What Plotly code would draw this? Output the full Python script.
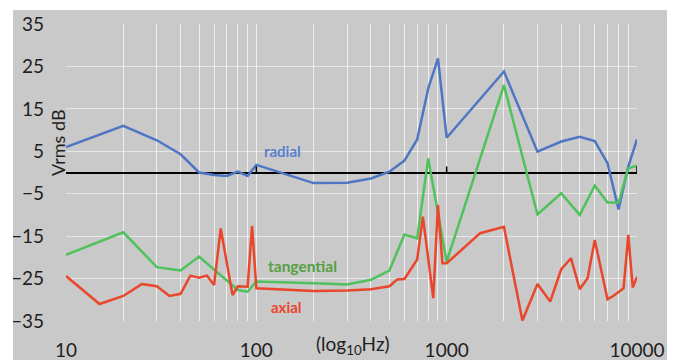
import plotly.graph_objects as go

# ---- data ----
radial_f = [10, 20, 30, 40, 50, 60, 70, 80, 90, 100, 200, 300, 400, 500, 600, 700,
            800, 900, 1000, 2000, 3000, 4000, 5000, 6000, 7000, 8000, 9000, 10000]
radial_db = [6.0, 11.0, 7.6, 4.3, 0.0, -0.6, -0.8, 0.2, -0.8, 1.8, -2.5, -2.4, -1.4, 0.2,
             2.8, 7.8, 19.8, 26.9, 8.2, 23.8, 4.9, 7.3, 8.4, 7.4, 2.2, -8.7, 1.4, 7.8]

tang_f = [10, 20, 30, 40, 50, 60, 70, 80, 90, 100, 200, 300, 400, 500, 600, 700,
          800, 900, 1000, 2000, 3000, 4000, 5000, 6000, 7000, 8000, 9000, 10000]
tang_db = [-19.4, -14.1, -22.3, -23.1, -19.8, -22.9, -25.4, -27.7, -28.1, -25.7, -26.1,
           -26.4, -25.3, -23.1, -14.6, -15.5, 3.3, -9.5, -21.0, 20.6, -9.9, -4.9, -10.0,
           -3.1, -7.1, -7.1, 1.0, 1.6]

axial_f = [10, 15, 20, 25, 30, 35, 40, 45, 50, 55, 60, 65, 75, 80, 90, 95, 100, 200, 300,
           400, 500, 550, 600, 700, 750, 850, 900, 950, 1000, 1500, 2000, 2500, 3000,
           3500, 4000, 4500, 5000, 5500, 6000, 7000, 7500, 8500, 9000, 9500, 10000]
axial_db = [-24.4, -31.0, -29.1, -26.3, -26.8, -29.1, -28.6, -24.3, -24.8, -24.3, -26.5,
            -13.2, -28.9, -26.8, -26.9, -12.6, -27.3, -27.9, -27.8, -27.5, -26.8, -25.2,
            -25.1, -20.5, -10.4, -29.6, -7.7, -21.4, -21.4, -14.3, -12.8, -34.9, -26.3,
            -30.4, -22.8, -20.2, -27.5, -24.9, -15.9, -29.9, -29.1, -27.3, -14.7, -27.1,
            -24.6]

decades = [10, 100, 1000, 10000]
grid_f = [m * d for d in [10, 100, 1000] for m in range(1, 10)] + [10000]
grid_text = [str(v) if v in decades else "" for v in grid_f]
y_ticks = [-35, -25, -15, -5, 5, 15, 25, 35]
zero_ticks_f = [100, 1000, 10000]

BLUE = "#4f76c2"
GREEN = "#4fc25c"
RED = "#e9462b"
GRAY = "#c9c9c9"
FONT = "Lato"
TXT = "#1e1e1e"

fig = go.Figure()
fig.add_trace(go.Scatter(x=radial_f, y=radial_db, mode="lines",
                         line=dict(color=BLUE, width=2.5), name="radial"))
fig.add_trace(go.Scatter(x=tang_f, y=tang_db, mode="lines",
                         line=dict(color=GREEN, width=2.5), name="tangential"))
fig.add_trace(go.Scatter(x=axial_f, y=axial_db, mode="lines",
                         line=dict(color=RED, width=2.5), name="axial"))
# small tick marks on the zero line
fig.add_trace(go.Scatter(x=zero_ticks_f, y=[0] * len(zero_ticks_f), mode="markers",
                         marker=dict(size=0.1, color="black"),
                         error_y=dict(type="data", symmetric=False,
                                      array=[1.4] * len(zero_ticks_f),
                                      arrayminus=[0] * len(zero_ticks_f),
                                      width=0, color="black", thickness=1.5),
                         hoverinfo="skip"))

# the page places the figure 8px in from the top-left corner (default body margin)
OFF = 8
W, H = 675 - OFF, 360 - OFF
L, R, T, B = 66 - OFF, 38, 24 - OFF, 39
pw, ph = W - L - R, H - T - B


def px_x(p):  # page pixel -> paper fraction
    return (p - OFF - L) / pw


def px_y(p):
    return (H - B - (p - OFF)) / ph


fig.update_layout(
    width=W, height=H,
    margin=dict(l=L, r=R, t=T, b=B),
    paper_bgcolor=GRAY, plot_bgcolor=GRAY,
    showlegend=False,
    font=dict(family=FONT, color=TXT, size=19),
    xaxis=dict(type="log", range=[1, 4], tickvals=grid_f, ticktext=grid_text,
               showgrid=True, gridcolor="rgba(255,255,255,0.7)", gridwidth=1.3,
               zeroline=False, showline=False, ticks="", ticklabelstandoff=16,
               automargin=False,
               tickfont=dict(size=19, family=FONT, color=TXT)),
    yaxis=dict(range=[-35, 35], tickvals=y_ticks, showgrid=True,
               gridcolor="rgba(255,255,255,0.55)", gridwidth=1.3,
               zeroline=True, zerolinecolor="black", zerolinewidth=1.6,
               showline=False, ticks="", ticklabelstandoff=21, automargin=False,
               tickfont=dict(size=19, family=FONT, color=TXT)),
)

# white page border around the gray panel (panel spans page x 13..670, y 10..360)
for x0, x1, y0, y1 in [(0, 700, 0, 10), (0, 13, 0, 400), (670, 700, 0, 400)]:
    fig.add_shape(type="rect", xref="paper", yref="paper", layer="above",
                  x0=px_x(x0), x1=px_x(x1), y0=px_y(y1), y1=px_y(y0),
                  fillcolor="white", line=dict(width=0))

fig.add_annotation(x=2.14, y=5.1, xref="x", yref="y", text="<b>radial</b>",
                   showarrow=False, font=dict(size=15, color="#5a80cc", family=FONT))
fig.add_annotation(x=2.244, y=-22.0, xref="x", yref="y", text="<b>tangential</b>",
                   showarrow=False, font=dict(size=15.5, color="#55a045", family=FONT))
fig.add_annotation(x=2.16, y=-31.6, xref="x", yref="y", text="<b>axial</b>",
                   showarrow=False, font=dict(size=15, color=RED, family=FONT))
fig.add_annotation(x=px_x(58), y=px_y(143), xref="paper", yref="paper",
                   xanchor="center", yanchor="middle",
                   text="Vrms dB", textangle=-90, showarrow=False,
                   font=dict(size=18, color=TXT, family=FONT))
fig.add_annotation(x=px_x(353), y=px_y(345), xref="paper", yref="paper",
                   xanchor="center", yanchor="middle",
                   text="(log<sub>10</sub>Hz)", showarrow=False,
                   font=dict(size=19, color=TXT, family=FONT))

fig.write_html("out.html", config={"displayModeBar": False})
